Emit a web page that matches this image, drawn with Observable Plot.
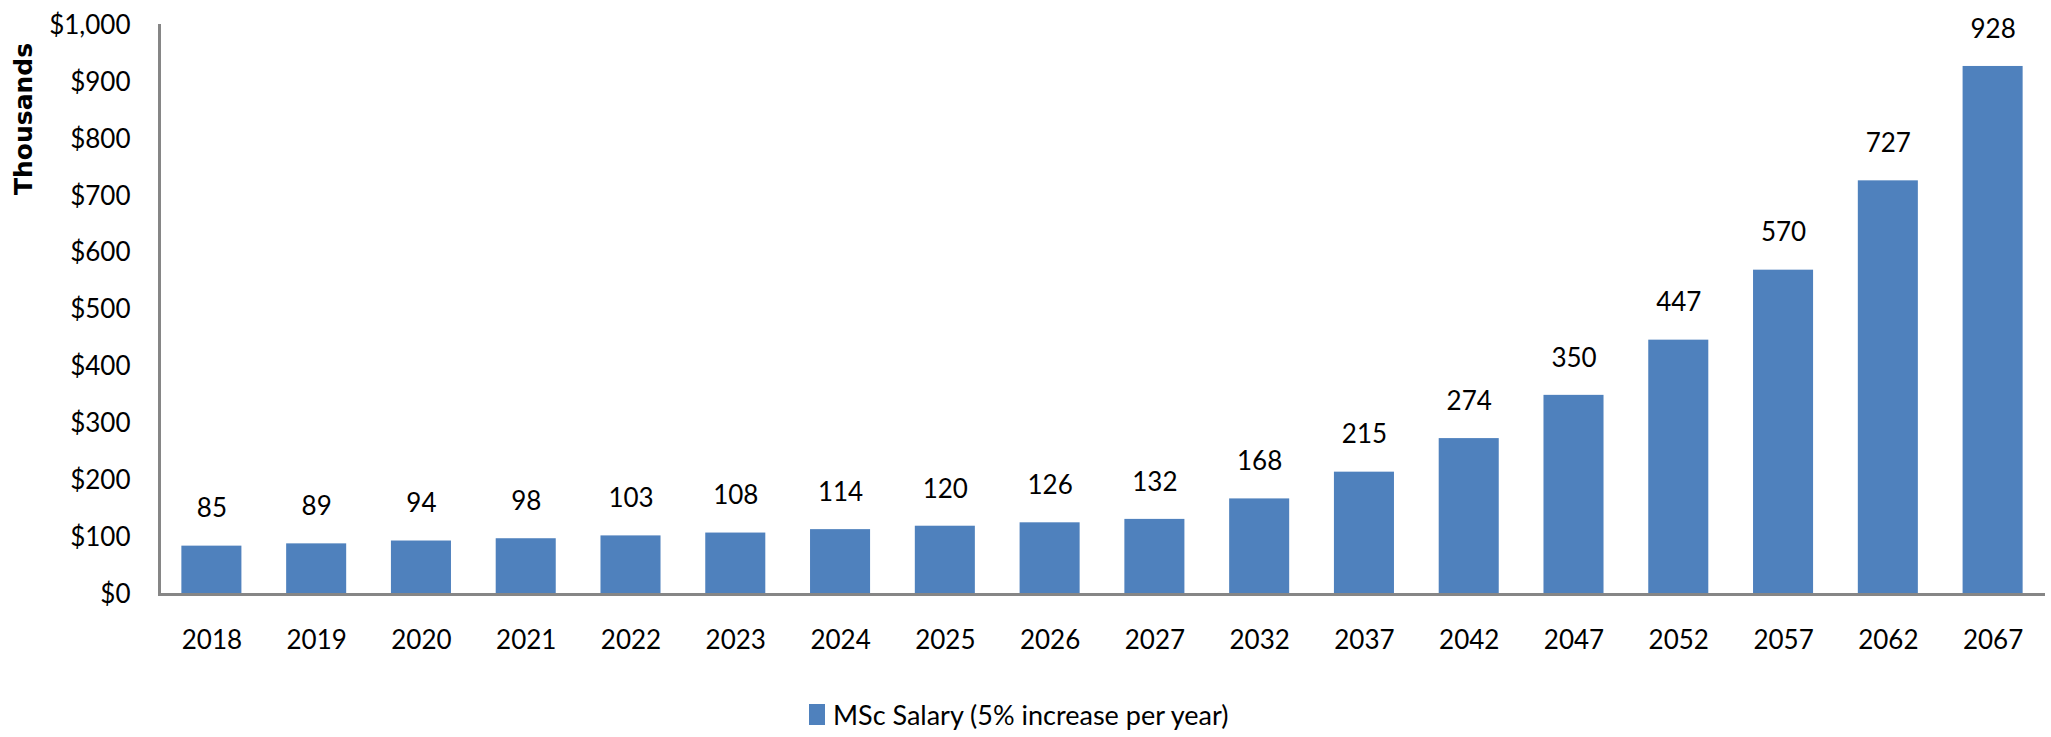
<!DOCTYPE html>
<html>
<head>
<meta charset="utf-8">
<script src="https://cdn.jsdelivr.net/npm/d3@7"></script>
<script src="https://cdn.jsdelivr.net/npm/@observablehq/plot@0.6"></script>
<style>
  html, body { margin: 0; padding: 0; background: #fff; }
  #wrap { position: relative; width: 2051px; height: 737px; font-family: Lato, "Open Sans", sans-serif; }
  #ylab { position: absolute; left: 23px; top: 119px; transform: translate(-50%, -50%) rotate(-90deg);
          font-family: "DejaVu Sans", sans-serif; font-weight: bold; font-size: 25px; color: #000; white-space: nowrap; }
  #legend { position: absolute; left: 809px; top: 698px; display: flex; align-items: center; font-size: 27px; color: #000; }
  #legend .sw { width: 16px; height: 21px; background: #4F81BD; margin-right: 8px; }
</style>
</head>
<body>
<div id="wrap">
  <div id="chart"></div>
  <div id="ylab">Thousands</div>
  <div id="legend"><div class="sw"></div><span id="legtext"></span></div>
</div>
<script>
const years = ["2018","2019","2020","2021","2022","2023","2024","2025","2026","2027","2032","2037","2042","2047","2052","2057","2062","2067"];
const salary = [85, 89, 94, 98, 103, 108, 114, 120, 126, 132, 168, 215, 274, 350, 447, 570, 727, 928];
const yTicks = [0, 100, 200, 300, 400, 500, 600, 700, 800, 900, 1000];
const seriesName = "MSc Salary (5% increase per year)";
const axisTitle = "Thousands";

const data = years.map((y, i) => ({year: y, value: salary[i]}));
const barColor = "#4F81BD";
const axisColor = "#868686";

document.getElementById("legtext").textContent = seriesName;
document.getElementById("ylab").textContent = axisTitle;

const chart = Plot.plot({
  width: 2051,
  height: 680,
  marginLeft: 159,
  marginRight: 6,
  marginTop: 25,
  marginBottom: 86,
  style: {fontFamily: "Lato, 'Open Sans', sans-serif", fontSize: "26px", color: "#000", background: "#fff"},
  x: {type: "band", domain: years, paddingInner: 0.427, paddingOuter: 0.2135, round: false},
  y: {domain: [0, 1000]},
  marks: [
    Plot.barY(data, {x: "year", y: "value", fill: barColor}),
    Plot.text(data, {x: "year", y: "value", text: d => String(d.value), dy: -37, fontSize: 26, fill: "#000"}),
    Plot.axisX({tickSize: 0, tickPadding: 36, label: null, fontSize: 26}),
    Plot.axisY({ticks: yTicks, tickSize: 0, tickPadding: 29, label: null, fontSize: 26,
                tickFormat: d => "$" + d3.format(",")(d)}),
    Plot.ruleY([0], {stroke: axisColor, strokeWidth: 3}),
    Plot.frame({anchor: "left", stroke: axisColor, strokeWidth: 3})
  ]
});
document.getElementById("chart").appendChild(chart);
</script>
</body>
</html>
